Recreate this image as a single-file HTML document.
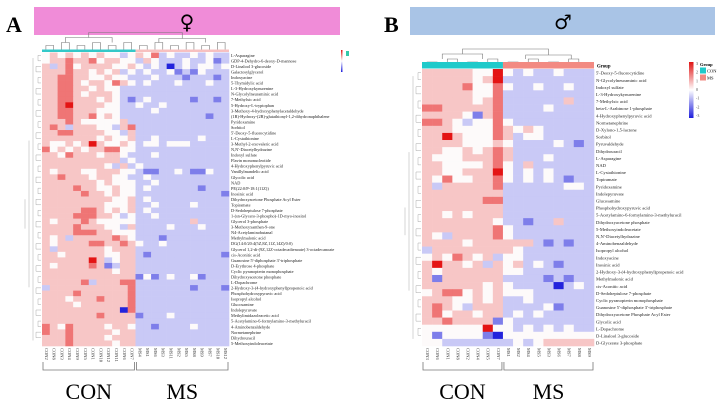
<!DOCTYPE html>
<html><head><meta charset="utf-8">
<style>
html,body{margin:0;padding:0;background:#fff;}
body{width:724px;height:406px;overflow:hidden;font-family:"Liberation Serif",serif;}
svg{display:block}
</style></head>
<body>
<svg id="fig" width="724" height="406" viewBox="0 0 724 406" xmlns="http://www.w3.org/2000/svg">
  <text x="6" y="32" font-size="22" font-weight="bold" font-family="Liberation Serif, serif">A</text>
  <rect x="34" y="7" width="306" height="28" fill="#f08cd8"/>
  <text x="187" y="29" font-size="20" text-anchor="middle" font-family="DejaVu Sans, sans-serif">♀</text>
  <text x="384" y="32" font-size="22" font-weight="bold" font-family="Liberation Serif, serif">B</text>
  <rect x="410" y="7" width="305" height="28" fill="#a9c4e6"/>
  <text x="563" y="29" font-size="20" text-anchor="middle" font-family="DejaVu Sans, sans-serif">♂</text>
  <g id="pa"></g>
  <g id="pb"></g>
</svg>
<script>
const rowsA = ["L-Asparagine","GDP-4-Dehydro-6-deoxy-D-mannose","D-Linalool 3-glucoside","Galactosylglycerol","Indoxyacine","5-Thymidylic acid","L-3-Hydroxykynurenine","N-Glycolylneuraminic acid","7-Methylxic acid","5-Hydroxy-L-tryptophan","3-Methoxy-4-hydroxyphenylacetaldehyde","(1R)-Hydroxy-(2R)-glutathionyl-1,2-dihydronaphthalene","Pyridoxamine","Sorbitol","5'-Deoxy-5-fluorocytidine","L-Cystathionine","3-Methyl-2-oxovaleric acid","N,N'-Diacetylhydrazine","Indoxyl sulfate","Flavin mononucleotide","4-Hydroxyphenylpyruvic acid","Vanillylmandelic acid","Glycolic acid","NAD","PE(22:0/P-18:1(11Z))","Inosinic acid","Dihydroxyacetone Phosphate Acyl Ester","Topiramate","D-Sedoheptulose 7-phosphate","1-(sn-Glycero-3-phospho)-1D-myo-inositol","Glycerol 3-phosphate","3-Methoxyxanthen-9-one","N4-Acetylaminobutanal","Methylmalonic acid","DG(14:0/20:4(5Z,8Z,11Z,14Z)/0:0)","Glycerol 1,2-di-(9Z,12Z-octadecadienoate) 3-octadecanoate","cis-Aconitic acid","Guanosine 5'-diphosphate 3'-triphosphate","D-Erythrose 4-phosphate","Cyclic pyranopterin monophosphate","Dihydroxyacetone phosphate","L-Dopachrome","2-Hydroxy-3-(4-hydroxyphenyl)propenoic acid","Phosphohydroxypyruvic acid","Isopropyl alcohol","Glucosamine","Indolepyruvate","Methylimidazoleacetic acid","5-Acetylamino-6-formylamino-3-methyluracil","4-Aminobenzaldehyde","Normetanephrine","Dihydrouracil","5-Methoxyindoleacetate"];
const colsA = ["CON2","CON8","CON3","CON4","CON9","CON5","CON1","CON10","CON12","CON11","CON6","CON7","MS4","MS1","MS6","MS3","MS11","MS2","MS5","MS8","MS9","MS7","MS10","MS12"];
const valsA = [
[0,1,0,1,0,1,0,1,0,0,-1,0,1,0,2,-1,0,-1,-1,0,-1,0,-1,-1],
[0,1,1,2,1,1,2,0,1,1,0,0,-1,1,0,-1,-1,-1,0,-1,-1,0,-2,-1],
[1,-1,1,2,0,1,1,1,1,0,0,1,0,-1,0,-1,-3,-1,0,-1,0,0,-1,0],
[1,1,1,2,1,1,0,1,0,1,-1,0,-1,0,-1,-1,0,-2,-1,-2,0,-1,-1,-1],
[1,1,2,2,1,1,0,0,1,0,0,-1,-1,-1,0,-1,-1,-1,-2,-1,-1,-1,-2,-1],
[1,1,2,2,1,0,1,1,0,2,1,0,-1,0,-1,-1,-1,0,-1,-1,-1,0,-1,-1],
[1,1,2,2,1,1,0,1,0,0,-1,-1,-1,-1,-1,-1,-1,-1,-1,-1,-1,-1,-1,-1],
[1,1,2,2,1,0,1,1,1,0,-1,-1,-1,-1,-1,-1,-1,-1,-1,-1,-1,-1,-1,-1],
[1,1,2,2,1,1,1,0,1,0,-1,-2,-1,0,-1,-1,-1,-1,-1,-2,-1,-1,-2,-1],
[1,1,2,3,1,1,1,1,0,0,-1,-1,0,-1,-1,0,-1,-1,-1,-1,-1,-1,-1,-1],
[1,1,2,2,1,1,1,0,0,0,-1,-1,-1,-1,0,-1,-1,-1,-1,-1,-1,-1,-1,-1],
[1,1,2,2,1,1,2,0,1,0,-1,-1,-1,-1,-1,-1,-1,-1,-1,-1,-1,-2,-1,-1],
[1,1,1,2,1,0,0,0,0,0,1,-1,-1,-1,-1,-1,-1,-1,-1,-1,-1,-1,-1,-1],
[1,2,1,-1,1,1,1,0,0,-1,1,2,-1,-1,-1,-1,-1,-1,-1,-1,-1,-1,-1,-1],
[1,1,2,2,1,1,1,1,0,0,-1,1,-1,-1,-1,-1,-1,-1,-1,-1,-1,-1,-1,-1],
[1,1,1,1,1,1,1,0,1,0,0,1,-1,-1,0,-1,-1,-1,-1,-1,0,-1,-1,-1],
[1,0,0,1,0,1,3,1,0,0,1,0,-1,0,0,-1,0,0,0,-1,-1,-1,-1,-1],
[2,0,1,0,1,0,1,1,2,2,0,0,-1,-1,-1,-1,-1,-1,-1,-1,-1,-1,-1,-1],
[1,1,0,2,1,1,1,0,1,1,0,-1,-1,-1,0,-1,-1,-1,-1,-1,-1,-1,-1,-1],
[1,1,1,1,1,1,1,1,1,1,-1,0,-1,-1,-1,-1,-1,-1,-1,-1,-1,-1,-1,-1],
[1,1,1,1,1,1,1,1,0,-1,1,-1,0,-1,-1,-1,-1,-1,-1,-1,-1,-1,-1,-1],
[1,0,1,1,1,0,0,1,1,1,0,0,-1,-2,-2,-1,-1,0,-1,-2,-2,0,-1,-1],
[1,1,2,1,1,1,0,1,1,0,0,-1,-1,0,-1,-1,-1,-1,-1,-1,-1,-1,-1,-1],
[1,1,1,1,1,1,1,0,1,0,0,0,-1,-1,0,-1,-1,-1,-1,-1,-1,-1,-1,-1],
[1,1,1,1,2,1,1,0,0,1,0,0,-1,0,-1,-1,-1,-1,-1,-1,-2,-1,-1,-1],
[1,1,1,1,1,2,1,1,0,1,0,0,-1,-1,-1,-1,-1,-1,-1,-1,-1,-1,-1,-2],
[1,1,1,1,1,1,1,1,1,0,0,1,-1,0,-1,-1,-1,-1,-1,-1,-1,-1,-1,-1],
[1,1,1,1,1,1,1,1,0,0,0,1,-1,-1,0,-1,-1,-1,-1,0,-1,-1,-1,-1],
[1,1,1,1,1,2,2,1,0,1,0,1,-1,0,-1,-1,-1,-1,-1,-1,-1,-1,-1,-1],
[1,1,1,1,2,2,2,1,1,0,-1,0,-1,-1,0,-1,-1,-1,-1,-1,-1,-1,-1,-1],
[1,0,1,1,1,2,1,0,0,0,0,0,-1,-1,-1,-1,-1,-1,-1,1,-1,-1,-1,-1],
[1,1,1,1,2,1,1,1,0,0,-1,1,-1,-1,-1,-1,0,-1,-1,-1,0,-1,-1,-1],
[1,1,1,1,2,2,2,1,1,0,0,0,-1,-1,-1,-1,-1,-1,-1,-1,-1,-1,-1,-1],
[1,0,1,-1,1,1,1,1,1,2,1,0,-1,-1,-1,-2,-1,-1,-1,-1,-1,-1,-1,-1],
[1,0,1,1,1,1,2,2,1,1,2,1,0,-1,-1,0,-1,-1,-1,-1,-1,-1,-1,-1],
[1,-1,1,1,1,1,1,1,0,1,1,1,-1,-1,-1,-1,-1,-1,-1,-1,-1,-1,-1,-1],
[1,1,0,1,1,1,1,1,0,0,1,1,-1,-2,-1,-1,-1,-1,-1,-1,-1,-1,-1,-2],
[1,1,1,1,1,1,3,1,-1,0,1,1,-1,-1,-1,-1,-1,-1,-1,-1,-1,-1,-1,-1],
[1,0,1,1,1,1,2,1,-2,-1,1,1,-1,-1,-1,-1,-1,-1,-1,-1,-1,-1,-1,-1],
[1,1,1,1,1,1,1,1,1,0,1,1,-1,-1,-1,-1,-1,-1,-1,-1,-1,-1,-1,-1],
[1,1,1,1,1,1,1,1,1,1,1,1,-2,0,-2,-1,0,-1,-1,0,-2,-1,-1,-1],
[1,1,1,1,1,2,-1,1,1,1,2,2,-1,-1,-1,-1,-1,-1,-1,-1,-1,-1,-1,-1],
[-1,1,1,1,1,1,1,1,1,1,1,2,-1,-1,-1,-1,-1,-1,-1,-2,-1,-1,-1,-2],
[1,1,1,1,2,1,1,1,1,1,1,2,-1,-1,-1,-1,-1,-1,-1,-1,-1,-1,-1,-1],
[1,1,1,0,1,1,1,2,1,1,1,2,-1,-1,-1,-1,-1,-1,-1,-1,-1,-1,-1,-1],
[1,1,1,1,0,1,1,1,1,1,1,2,-1,-1,-1,-1,-1,-1,-1,-1,-1,-1,-1,-1],
[1,1,1,1,1,1,1,1,1,1,-3,2,-1,-1,-1,-1,-1,-1,-1,-1,-1,-1,-1,-1],
[1,1,1,1,1,1,1,2,1,1,1,1,-2,-1,-1,-1,0,-1,-1,-1,-1,-1,-1,-1],
[1,1,1,1,1,1,1,1,1,1,1,1,-1,-1,-1,-1,-1,-1,-1,-1,-1,-1,-1,-1],
[2,1,0,2,1,1,1,1,0,1,1,0,-1,-1,-2,-1,-1,-1,-1,0,-1,-1,-1,-1],
[2,1,1,2,1,1,1,1,1,0,1,1,-1,-1,-1,-1,-1,-1,-1,-1,-1,-1,-1,-1],
[1,1,1,2,1,1,1,1,0,1,1,1,-1,-1,-1,-1,-1,-1,-1,-1,-1,-1,-1,-1],
[1,1,1,2,1,1,1,1,1,0,1,1,-1,-1,-1,-1,-1,-1,-1,-1,-1,-1,-1,-1]
];
const rowsB = ["5'-Deoxy-5-fluorocytidine","N-Glycolylneuraminic acid","Indoxyl sulfate","L-3-Hydroxykynurenine","7-Methylxic acid","beta-L-Arabinose 1-phosphate","4-Hydroxyphenylpyruvic acid","Normetanephrine","D-Xylono-1,5-lactone","Sorbitol","Pyruvaldehyde","Dihydrouracil","L-Asparagine","NAD","L-Cystathionine","Topiramate","Pyridoxamine","Indolepyruvate","Glucosamine","Phosphohydroxypyruvic acid","5-Acetylamino-6-formylamino-3-methyluracil","Dihydroxyacetone phosphate","5-Methoxyindoleacetate","N,N'-Diacetylhydrazine","4-Aminobenzaldehyde","Isopropyl alcohol","Indoxyacine","Inosinic acid","2-Hydroxy-3-(4-hydroxyphenyl)propenoic acid","Methylmalonic acid","cis-Aconitic acid","D-Sedoheptulose 7-phosphate","Cyclic pyranopterin monophosphate","Guanosine 5'-diphosphate 3'-triphosphate","Dihydroxyacetone Phosphate Acyl Ester","Glycolic acid","L-Dopachrome","D-Linalool 3-glucoside","D-Glycerate 3-phosphate"];
const colsB = ["CON3","CON6","CON1","CON8","CON2","CON4","CON5","CON7","MS1","MS2","MS4","MS5","MS3","MS6","MS7","MS8","MS9"];
const valsB = [
[1,1,1,1,1,0,0,3,0,-1,0,-1,-1,0,-1,-1,-1],
[1,1,1,1,1,0,1,3,-1,-1,-1,-1,-1,-1,-1,-1,-1],
[1,1,1,1,2,0,0,2,0,-1,-1,0,-1,-1,0,-1,-1],
[1,1,1,1,1,0,0,2,-1,-1,-1,-1,-1,-1,-1,-1,-1],
[1,1,1,1,1,0,1,2,-1,-1,-1,-1,-1,-1,1,-1,-1],
[2,2,1,1,1,1,1,2,-1,-1,-1,-1,0,-1,-1,-1,-1],
[1,1,1,1,0,-2,1,2,-1,-1,-1,-1,-1,-1,-1,-1,-1],
[2,2,1,0,-1,0,0,2,0,-1,-1,-1,-1,-1,-1,-1,-1],
[1,1,1,0,0,0,0,2,1,0,1,0,-1,-1,-1,-1,-1],
[1,1,3,1,0,0,0,2,1,-1,0,0,-1,-1,-1,-1,-1],
[1,1,1,1,0,0,0,1,0,-1,-1,-1,-1,0,-1,-2,-1],
[1,1,0,0,1,0,1,2,1,-1,-1,-1,-1,-1,-1,-1,-1],
[1,0,0,0,1,1,1,2,1,-1,-1,-1,0,-1,-1,-1,-1],
[1,1,0,0,0,0,1,2,0,-1,1,-1,-1,-1,-1,-1,-1],
[1,1,0,0,1,1,1,3,0,-1,0,-1,0,-1,-1,-1,-1],
[1,0,2,0,0,1,1,2,0,-1,0,-1,0,-1,-2,-1,-1],
[1,-1,1,1,1,1,1,2,-1,-1,-1,-1,-1,-1,0,0,-1],
[1,1,1,1,1,1,1,1,-1,-1,-1,-1,-1,-1,-1,-1,-1],
[1,1,1,1,1,1,2,2,-1,-1,-1,-1,-1,-1,-1,-1,-1],
[1,1,1,1,1,1,1,1,-1,-1,-1,-1,-1,-1,-1,-1,-1],
[1,1,0,1,0,1,1,1,-1,-1,-1,-1,-1,-1,-1,-1,-1],
[1,1,1,1,1,1,1,0,-1,-1,-2,-1,-1,1,-1,-1,-1],
[1,1,1,1,1,1,1,2,0,-1,-1,-1,-1,-1,-1,-1,-1],
[1,0,-1,1,1,1,1,2,0,-1,-1,-1,-1,-1,-1,-1,-1],
[1,1,1,1,0,1,1,1,1,1,1,-1,-2,-1,-2,-1,-1],
[-1,1,1,1,1,1,1,1,1,0,-1,-1,-1,-1,-1,-1,-1],
[0,1,0,2,1,0,1,-1,0,0,-1,-1,-1,-1,-1,-1,-1],
[1,3,1,1,0,1,-1,1,0,1,-1,0,-1,-2,-1,-1,-1],
[1,0,1,1,1,1,1,1,0,0,-1,-1,-1,-1,-1,-1,-1],
[1,-2,1,1,1,1,1,1,-1,-1,-1,-1,-2,-1,-2,-1,-1],
[1,1,1,1,1,1,0,1,0,-1,-1,-1,-1,-3,-1,0,-1],
[0,1,2,2,0,1,0,1,0,0,0,-1,-1,-1,-1,-1,-1],
[1,1,1,0,0,1,0,1,-1,-1,0,-1,-1,-1,-1,-1,-1],
[1,2,1,0,-1,1,1,1,-1,-1,-1,-1,0,-2,-1,-1,-1],
[1,2,0,1,1,0,1,1,-1,0,-1,0,-1,-1,-1,-1,-1],
[1,1,2,1,1,1,1,-2,0,-1,-1,-1,-1,-1,-1,-1,-1],
[0,0,0,0,0,0,3,0,0,-1,0,-1,0,-1,0,-1,-1],
[0,-2,0,0,0,0,-2,-3,0,0,0,0,0,0,0,0,0],
[0,0,-1,-1,-1,-1,-1,-1,-1,0,-1,0,1,1,1,1,1]
];
const legendTicksB = [3,2,1,0,-1,-2,-3];

const NS = "http://www.w3.org/2000/svg";
function mk(tag, attrs, parent){ const e=document.createElementNS(NS,tag); for(const k in attrs) e.setAttribute(k,attrs[k]); parent.appendChild(e); return e; }
function color(v){
  const a=Math.min(1,Math.abs(v)/3);
  const t=Math.pow(a,1.35);
  const lerp=(p,q,s)=>Math.round(p+(q-p)*s);
  if(v>=0) return `rgb(${lerp(253,228,t)},${lerp(250,20,t)},${lerp(250,20,t)})`;
  return `rgb(${lerp(250,35,t)},${lerp(250,35,t)},${lerp(253,220,t)})`;
}
function drawHeat(g, rows, cols, vals, x0, y0, w, h, nCon, labelFs){
  const cw=w/cols.length, rh=h/rows.length;
  const xS=i=>x0+i*cw, yS=j=>y0+j*rh;
  vals.forEach((row,j)=>row.forEach((v,i)=>{
    const r=mk("rect",{x:xS(i),y:yS(j),width:cw+0.3,height:rh+0.3,fill:color(v)},g);
    
    
  }));
  rows.forEach((n,j)=>{
    const t=mk("text",{x:x0+w+2,y:yS(j)+rh*0.8,"font-size":labelFs,"font-family":"Liberation Serif, serif",fill:"#222"},g);
    t.textContent=n;
    
    
  });
  cols.forEach((n,i)=>{
    const cx=xS(i)+cw/2, cy=y0+h+2;
    const t=mk("text",{x:cx,y:cy,"font-size":4.5,"font-family":"Liberation Serif, serif",fill:"#333",transform:`rotate(90 ${cx} ${cy})`,"dominant-baseline":"middle"},g);
    t.textContent=n;
    
    
  });
  const dx=x0-1;
  for(let j=0;j<rows.length-1;j+=2){
    const l=mk("path",{d:`M${dx} ${yS(j)+rh/2}H${dx-3-(j%4)}V${yS(j+1)+rh/2}H${dx}`,stroke:"#aaa",fill:"none","stroke-width":0.5},g);
    
    
  }
  const tr=mk("path",{d:`M${dx-8} ${y0+rh}V${y0+h-rh}M${dx-12} ${y0+h*0.3}V${y0+h*0.8}M${dx-16} ${y0+h*0.5}V${y0+h*0.6}`,stroke:"#aaa",fill:"none","stroke-width":0.5},g);
  
  
  let d="";
  for(let i=0;i<cols.length-1;i+=2){ d+=`M${xS(i)+cw/2} ${y0-3}V${y0-7-(i%4)*1.5}H${xS(i+1)+cw/2}V${y0-3}`; }
  const cxc=xS(nCon/2), cxm=xS(nCon+(cols.length-nCon)/2);
  d+=`M${xS(nCon/4)} ${y0-10}V${y0-15}H${xS(nCon*3/4)}V${y0-10}M${xS(nCon+(cols.length-nCon)/4)} ${y0-10}V${y0-14}H${xS(nCon+3*(cols.length-nCon)/4)}V${y0-10}`;
  d+=`M${cxc} ${y0-15}V${y0-20}H${cxm}V${y0-14}`;
  const cd=mk("path",{d:d,stroke:"#777",fill:"none","stroke-width":0.6},g);
  
  
  const by=y0+h+16;
  [[0,nCon,"CON"],[nCon,cols.length,"MS"]].forEach(([a,b,lab])=>{
    const p=mk("path",{d:`M${xS(a)+1} ${by}V${by+8}H${xS(b)-1}V${by}`,stroke:"#777",fill:"none","stroke-width":0.8},g);
    
    
    const t=mk("text",{x:(xS(a)+xS(b))/2,y:by+37,"font-size":22,"text-anchor":"middle","font-family":"Liberation Serif, serif"},g);
    t.textContent=lab;
    
    
  });
  return {xS,cw};
}
const ga=document.getElementById('pa');
const A=drawHeat(ga,rowsA,colsA,valsA,42,52.5,187,293.5,12,4.3);
const ca=mk("rect",{x:42,y:49.5,width:A.xS(12)-42,height:2.5,fill:"#34c8c8"},ga);


const ma=mk("rect",{x:A.xS(12),y:49.5,width:229-A.xS(12),height:2.5,fill:"#f7c0c0"},ga);


const lga=mk("rect",{x:341,y:50,width:1.5,height:22,fill:"url(#cbar)"},ga);


const lsa=mk("rect",{x:346,y:51,width:3,height:5,fill:"#34c8a8"},ga);


const defs=mk("defs",{},document.getElementById('fig'));
const grad=mk("linearGradient",{id:"cbar",x1:0,y1:0,x2:0,y2:1},defs);
mk("stop",{offset:"0","stop-color":"#e01414"},grad);
mk("stop",{offset:"0.5","stop-color":"#ffffff"},grad);
mk("stop",{offset:"1","stop-color":"#1e1edc"},grad);
const gb=document.getElementById('pb');
const B=drawHeat(gb,rowsB,colsB,valsB,422,69,172,277,8,4.6);
const cb=mk("rect",{x:422,y:62,width:B.xS(8)-422,height:6.5,fill:"#1fcaca"},gb);


const mb=mk("rect",{x:B.xS(8),y:62,width:594-B.xS(8),height:6.5,fill:"#f28a82"},gb);


const gt=mk("text",{x:597,y:67.5,"font-size":4.8,"font-weight":"bold","font-family":"Liberation Serif, serif"},gb);
gt.textContent="Group";


const cbB=mk("rect",{x:689,y:62,width:4.5,height:56,fill:"url(#cbar)"},gb);


legendTicksB.forEach((v,i)=>{
  const t=mk("text",{x:696,y:65+i*(52/6),"font-size":4,"font-family":"Liberation Serif, serif",fill:"#444"},gb);
  t.textContent=String(v);
  
  
});
const lgT=mk("text",{x:700,y:66,"font-size":4.5,"font-weight":"bold","font-family":"Liberation Serif, serif"},gb);
lgT.textContent="Group";


[["CON","#1fcaca"],["MS","#f28a82"]].forEach(([n,c],i)=>{
  const r=mk("rect",{x:700,y:67.5+i*7,width:6,height:6,fill:c},gb);
  
  
  const t=mk("text",{x:707,y:72.5+i*7,"font-size":4.5,"font-family":"Liberation Serif, serif"},gb);
  t.textContent=n;
  
  
});
</script>
</body></html>
